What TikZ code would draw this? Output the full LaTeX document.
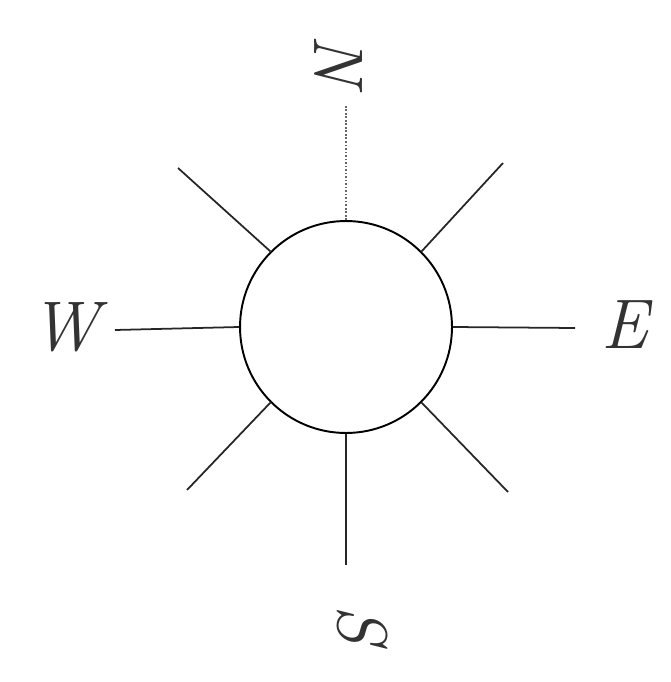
\documentclass[tikz,border=0pt]{standalone}
\usetikzlibrary{positioning}
\tikzset{
  hub/.style={circle, draw=black, minimum size=4.24cm, inner sep=0pt, line width=1.1pt},
  spoke/.style={line width=1pt, color=black!85},
  compass/.style={font=\fontsize{40}{40}\selectfont\itshape, color=black!80, inner sep=0pt}
}
\begin{document}
\begin{tikzpicture}[x=0.02cm, y=-0.02cm]
  \useasboundingbox (0,0) rectangle (671,682);
  % Centre disc
  \node[hub] (hub) at (346,327) {};

  % Spoke ends
  \coordinate (eN) at (346,105);
  \coordinate (eS) at (346,565);
  \coordinate (eW) at (115,330);
  \coordinate (eE) at (575,328);
  \coordinate (eNW) at (178,168);
  \coordinate (eNE) at (503,163);
  \coordinate (eSW) at (187,490);
  \coordinate (eSE) at (508,492);

  % Compass labels
  \node[compass, rotate=-90] (lN) at (338,60) {N};
  \node[compass] (lW) at (65,327) {W};
  \node[compass] (lE) at (625,325) {E};
  \node[compass, rotate=-90] (lS) at (362,625) {S};

  % Spokes
  \draw[spoke, densely dotted, color=black!60] (hub.north) -- (eN);
  \draw[spoke] (hub.south) -- (eS);
  \draw[spoke] (hub.west) -- (eW);
  \draw[spoke] (hub.east) -- (eE);
  \draw[spoke] (hub.north west) -- (eNW);
  \draw[spoke] (hub.north east) -- (eNE);
  \draw[spoke] (hub.south west) -- (eSW);
  \draw[spoke] (hub.south east) -- (eSE);
\end{tikzpicture}
\end{document}
